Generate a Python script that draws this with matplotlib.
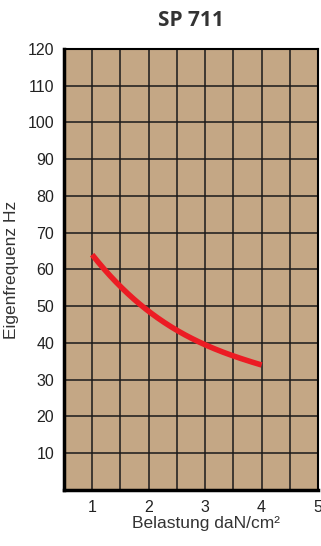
import matplotlib
matplotlib.use("Agg")
import matplotlib.pyplot as plt
import numpy as np

# load curve (daN/cm2 -> Hz)
load = [1.0, 1.5, 2.0, 2.5, 3.0, 3.5, 4.0]
freq = [64.0, 55.5, 48.5, 43.5, 39.5, 36.5, 34.0]

x_ticks = [1, 2, 3, 4, 5]
y_ticks = [10, 20, 30, 40, 50, 60, 70, 80, 90, 100, 110, 120]

plt.rcParams['font.family'] = ['Liberation Sans', 'DejaVu Sans']

fig = plt.figure(figsize=(3.21, 5.46), dpi=100)
ax = fig.add_axes([0.199, 0.1026, 0.792, 0.8077])
ax.set_facecolor('#c4a785')

# smooth line through the read points
xs = np.linspace(load[0], load[-1], 200)
coef = np.polyfit(load, freq, 3)
ax.plot(xs, np.polyval(coef, xs), color='#ec1c24', linewidth=4, solid_capstyle='butt', zorder=3)

ax.set_xlim(0.5, 5.0)
ax.set_ylim(0, 120)
ax.set_xticks(x_ticks)
ax.set_xticks(np.arange(0.5, 5.01, 0.5), minor=True)
ax.set_yticks(y_ticks)
ax.grid(True, which='both', color='#1a1a1a', linewidth=1.1, zorder=1)
ax.set_axisbelow(True)
ax.tick_params(which='both', length=0, labelsize=11.5, colors='#222222', pad=7)

for side in ['left', 'bottom']:
    ax.spines[side].set_linewidth(2.5)
for side in ['top', 'right']:
    ax.spines[side].set_linewidth(1.5)

ax.set_xlabel('Belastung daN/cm²', fontsize=12.5, color='#333333')
ax.xaxis.set_label_coords(0.56, -0.058)
ax.set_ylabel('Eigenfrequenz Hz', fontsize=12.5, color='#333333')
ax.yaxis.set_label_coords(-0.175, 0.5)
fig.text(0.595, 0.962, 'SP 711', ha='center', va='center', fontsize=15,
         fontweight='bold', family=['Open Sans', 'DejaVu Sans'], color='#333333')

fig.savefig('out.png', dpi=100)
